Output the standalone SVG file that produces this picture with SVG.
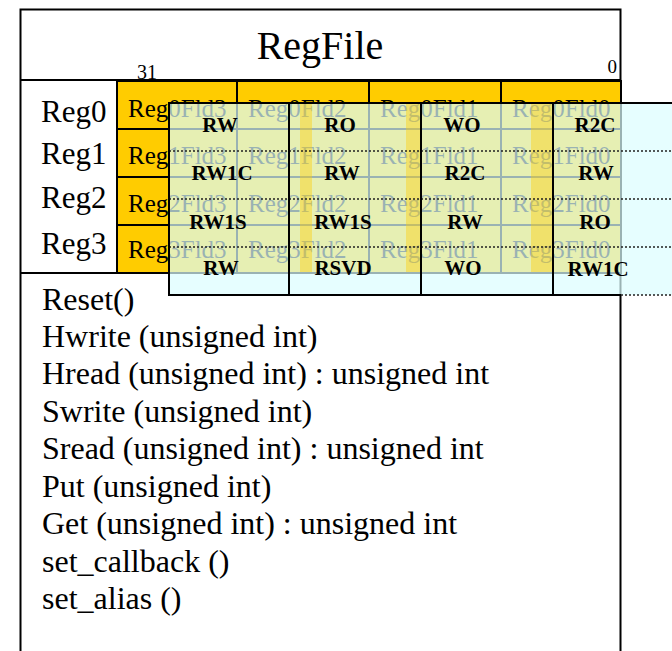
<svg xmlns="http://www.w3.org/2000/svg" width="672" height="651" viewBox="0 0 672 651">
<style>
.serif{font-family:"Liberation Serif","Times New Roman",serif;fill:#000}
.cell{fill:#ffcc00;stroke:#000;stroke-width:2}
.fld{font-size:25px}
.acc{font-size:21px;font-weight:bold;text-anchor:middle}
.meth{font-size:32px}
.ln{stroke:#000;stroke-width:2;fill:none}
.ov{fill:#dbfdff;fill-opacity:0.7;stroke:none}
.ovl{stroke:#000;stroke-width:2;fill:none}
.ovd{stroke:#222;stroke-width:1.5;stroke-dasharray:2 2;fill:none}
.stripe{fill:#ffcc00;fill-opacity:0.4}
</style>
<rect width="672" height="651" fill="#fff"/>
<g id="RegFile">
  <path class="ln" d="M20.5,660 V9.5 H620.5 V660"/>
  <line class="ln" x1="20" y1="80" x2="621" y2="80"/>
  <line class="ln" x1="20" y1="273" x2="621" y2="273"/>
  <text class="serif" x="320" y="59" font-size="40" text-anchor="middle">RegFile</text>
  <text class="serif" x="137" y="79" font-size="20">31</text>
  <text class="serif" x="617" y="73" font-size="19" text-anchor="end">0</text>
</g>
<g id="regnames" class="serif" font-size="31">
  <text x="41" y="122">Reg0</text>
  <text x="41" y="164">Reg1</text>
  <text x="41" y="208">Reg2</text>
  <text x="41" y="254">Reg3</text>
</g>
<g id="fields">
  <g id="row0">
    <rect class="cell" x="117" y="81" width="120" height="48"/>
    <rect class="cell" x="237" y="81" width="132" height="48"/>
    <rect class="cell" x="369" y="81" width="132" height="48"/>
    <rect class="cell" x="501" y="81" width="120" height="48"/>
    <text class="serif fld" x="128" y="117">Reg0Fld3</text>
    <text class="serif fld" x="248" y="117">Reg0Fld2</text>
    <text class="serif fld" x="380" y="117">Reg0Fld1</text>
    <text class="serif fld" x="512" y="117">Reg0Fld0</text>
  </g>
  <g id="row1">
    <rect class="cell" x="117" y="129" width="120" height="48"/>
    <rect class="cell" x="237" y="129" width="132" height="48"/>
    <rect class="cell" x="369" y="129" width="132" height="48"/>
    <rect class="cell" x="501" y="129" width="120" height="48"/>
    <text class="serif fld" x="128" y="164">Reg1Fld3</text>
    <text class="serif fld" x="248" y="164">Reg1Fld2</text>
    <text class="serif fld" x="380" y="164">Reg1Fld1</text>
    <text class="serif fld" x="512" y="164">Reg1Fld0</text>
  </g>
  <g id="row2">
    <rect class="cell" x="117" y="177" width="120" height="48"/>
    <rect class="cell" x="237" y="177" width="132" height="48"/>
    <rect class="cell" x="369" y="177" width="132" height="48"/>
    <rect class="cell" x="501" y="177" width="120" height="48"/>
    <text class="serif fld" x="128" y="212">Reg2Fld3</text>
    <text class="serif fld" x="248" y="212">Reg2Fld2</text>
    <text class="serif fld" x="380" y="212">Reg2Fld1</text>
    <text class="serif fld" x="512" y="212">Reg2Fld0</text>
  </g>
  <g id="row3">
    <rect class="cell" x="117" y="225" width="120" height="48"/>
    <rect class="cell" x="237" y="225" width="132" height="48"/>
    <rect class="cell" x="369" y="225" width="132" height="48"/>
    <rect class="cell" x="501" y="225" width="120" height="48"/>
    <text class="serif fld" x="128" y="258">Reg3Fld3</text>
    <text class="serif fld" x="248" y="258">Reg3Fld2</text>
    <text class="serif fld" x="380" y="258">Reg3Fld1</text>
    <text class="serif fld" x="512" y="258">Reg3Fld0</text>
  </g>
</g>
<g id="access-overlay">
  <rect class="ov" x="169" y="103" width="510" height="192"/>
  <rect class="stripe" x="300" y="103" width="12" height="169"/>
  <rect class="stripe" x="406" y="103" width="14" height="169"/>
  <rect class="stripe" x="531" y="103" width="21" height="169"/>
  <line class="ovd" x1="169" y1="151" x2="672" y2="151"/>
  <line class="ovd" x1="169" y1="199" x2="672" y2="199"/>
  <line class="ovd" x1="169" y1="247" x2="672" y2="247"/>
  <path class="ovl" d="M672,103 H169 V295 H621"/>
  <line class="ovd" x1="621" y1="295" x2="672" y2="295"/>
  <line class="ovl" x1="289" y1="103" x2="289" y2="295"/>
  <line class="ovl" x1="421" y1="103" x2="421" y2="295"/>
  <line class="ovl" x1="553" y1="103" x2="553" y2="295"/>
  <g class="serif acc">
    <text x="220" y="132">RW</text>
    <text x="340" y="132">RO</text>
    <text x="462" y="132">WO</text>
    <text x="595" y="132">R2C</text>
    <text x="222" y="180">RW1C</text>
    <text x="342" y="180">RW</text>
    <text x="465" y="180">R2C</text>
    <text x="596" y="180">RW</text>
    <text x="218" y="229">RW1S</text>
    <text x="343" y="229">RW1S</text>
    <text x="465" y="229">RW</text>
    <text x="595" y="229">RO</text>
    <text x="221" y="275">RW</text>
    <text x="343" y="275">RSVD</text>
    <text x="463" y="275">WO</text>
    <text x="598" y="276">RW1C</text>
  </g>
</g>
<g id="methods" class="serif meth">
  <text x="42" y="310">Reset()</text>
  <text x="42" y="347">Hwrite (unsigned int)</text>
  <text x="42" y="384">Hread (unsigned int) : unsigned int</text>
  <text x="42" y="422">Swrite (unsigned int)</text>
  <text x="42" y="459">Sread (unsigned int) : unsigned int</text>
  <text x="42" y="497">Put (unsigned int)</text>
  <text x="42" y="534">Get (unsigned int) : unsigned int</text>
  <text x="42" y="572">set_callback ()</text>
  <text x="42" y="609">set_alias ()</text>
</g>
<g id="connectors"/>
</svg>
